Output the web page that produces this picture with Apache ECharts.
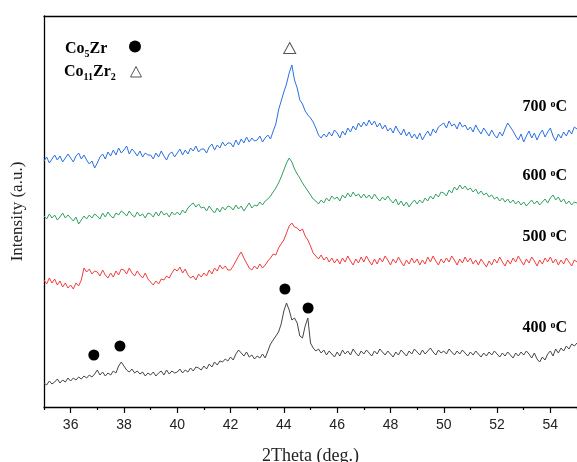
<!DOCTYPE html>
<html><head><meta charset="utf-8">
<script src="https://cdn.jsdelivr.net/npm/echarts@6/dist/echarts.min.js"></script>
<style>html,body{margin:0;padding:0;background:#fff}#c{width:577px;height:462px}</style>
</head><body><div id="c"></div>
<script>
// 2Theta sampling: 35.0 .. 55.0 in 0.1 deg steps
const thetaStart = 35, thetaStep = 0.1;

const int700 = [
245,249,243,247,251,246,250,244,248,252,
248,244,250,253,247,251,246,242,245,238,
243,249,252,247,254,250,256,251,258,253,
256,260,252,257,254,250,255,249,253,251,
251,247,253,249,255,250,246,252,254,249,
253,257,251,256,252,258,255,260,254,257,
257,253,259,262,256,261,258,264,260,263,
263,259,266,261,267,263,269,264,268,265,
266,270,264,268,271,267,275,282,296,305,
314,322,333,341,326,318,306,302,295,291,
288,284,278,271,268,272,269,274,270,276,
273,268,275,271,278,274,280,276,283,279,
284,280,286,281,285,279,283,277,281,275,
278,273,280,275,271,277,270,274,268,272,
267,273,266,271,275,270,277,273,279,281,
283,278,285,280,282,277,284,279,281,276,
279,274,281,276,272,278,274,270,276,271,
268,274,270,277,283,279,275,270,266,272,
264,270,275,268,273,266,272,276,269,274,
278,270,265,272,268,274,270,276,272,279,
277];

const int600 = [
190,187,192,188,191,186,189,193,188,191,
188,185,189,182,186,190,187,191,188,192,
190,187,193,189,194,190,188,193,191,195,
193,190,195,191,189,194,190,192,188,193,
192,189,194,190,195,191,193,189,194,191,
194,191,196,193,198,201,203,199,202,198,
199,195,200,196,193,198,194,199,196,200,
199,196,201,197,200,195,199,203,198,201,
200,204,201,205,207,210,214,218,223,229,
236,243,248,244,237,232,228,223,219,215,
211,207,205,202,206,203,208,205,210,207,
209,205,211,208,213,209,214,210,212,208,
212,208,211,207,212,208,205,209,206,210,
206,203,207,201,205,200,204,199,203,206,
202,206,203,208,205,210,207,212,209,214,
213,210,216,213,219,216,221,217,220,216,
218,214,217,212,215,211,213,209,211,207,
209,205,208,204,207,203,206,202,205,201,
204,200,203,206,202,205,201,204,207,203,
208,211,206,209,204,207,202,205,201,204,
203];

const int500 = [
126,122,128,123,127,121,125,119,123,118,
121,117,123,120,126,138,134,137,132,135,
134,130,136,131,128,133,129,135,131,137,
136,132,138,133,130,135,131,128,133,127,
124,121,125,122,127,126,130,128,133,137,
135,139,133,137,131,128,130,126,132,129,
133,130,136,132,138,135,141,137,140,136,
136,140,145,150,154,148,143,138,136,140,
137,142,138,141,145,148,152,151,158,162,
166,173,180,183,179,178,175,177,170,166,
160,153,150,147,151,146,149,144,148,143,
147,142,148,144,150,145,141,147,143,149,
144,150,145,141,147,142,148,144,150,146,
141,147,143,149,144,140,146,142,148,143,
147,141,146,142,149,144,150,145,141,147,
143,148,144,150,146,141,147,143,149,144,
148,142,146,141,147,143,139,145,141,147,
143,149,144,140,146,142,148,144,150,145,
141,147,143,149,145,140,146,142,148,144,
149,143,147,141,146,142,148,144,140,146,
144];

const int400 = [
23,21,25,22,24,27,23,26,24,28,
25,28,26,29,27,30,28,31,29,32,
36,31,34,30,33,31,35,33,40,44,
40,36,34,37,33,35,32,34,30,33,
31,34,30,33,35,31,36,32,35,33,
34,37,33,36,34,38,35,39,38,36,
40,37,42,39,44,41,45,44,47,45,
49,46,52,56,53,50,54,49,51,47,
50,48,52,48,55,62,66,70,74,82,
95,103,96,86,88,83,70,68,80,88,
63,58,55,57,53,56,51,55,52,49,
54,50,56,52,55,51,57,53,50,55,
52,56,53,50,55,52,57,54,51,55,
52,49,54,51,56,53,50,55,52,57,
54,51,56,52,55,58,54,51,56,53,
55,52,57,54,51,55,52,56,53,50,
54,51,55,52,49,53,50,54,51,55,
52,49,53,50,54,51,48,53,50,54,
51,55,52,48,53,47,44,49,46,52,
55,50,57,53,58,55,60,57,62,60,
63];

const co5zrPeaks = [[36.87, 51], [37.85, 60], [44.04, 117], [44.91, 98]];
const co11zr2Peaks = [[44.22, 358]];

const majorTicks = [36, 38, 40, 42, 44, 46, 48, 50, 52, 54];
const minorTicks = [35, 37, 39, 41, 43, 45, 47, 49, 51, 53, 55];

const sampleTemps = ['700', '600', '500', '400'];
const phaseNames = ['{b|Co}{s|5}{b|Zr}', '{b|Co}{s|11}{b|Zr}{s|2}'];

const xTitle = '2Theta (deg.)';
const yTitle = 'Intensity (a.u.)';

const colors = ['#2a6fe3', '#2fa15c', '#f23c3c', '#454545'];
const serif = '"Liberation Serif", "Times New Roman", serif';

function toPairs(arr) {
  return arr.map((v, i) => [+(thetaStart + i * thetaStep).toFixed(1), v]);
}

const chart = echarts.init(document.getElementById('c'), null, {renderer: 'canvas'});

const lineSeries = [int700, int600, int500, int400].map((arr, k) => ({
  type: 'line',
  data: toPairs(arr),
  showSymbol: false,
  symbol: 'none',
  silent: true,
  lineStyle: {color: colors[k], width: 1},
  itemStyle: {color: colors[k]},
  emphasis: {disabled: true},
  z: 2
}));

const labelY = [107, 176, 237, 328];
const richTemp = {
  b: {fontFamily: serif, fontWeight: 'bold', fontSize: 16, color: '#111'},
  sup: {fontFamily: serif, fontWeight: 'bold', fontSize: 10, color: '#111', verticalAlign: 'top', padding: [0, 0, 6, 0]}
};
const richPhase = {
  b: {fontFamily: serif, fontWeight: 'bold', fontSize: 16, color: '#111', verticalAlign: 'bottom'},
  s: {fontFamily: serif, fontWeight: 'bold', fontSize: 10, color: '#111', verticalAlign: 'bottom', padding: [0, 0, -2, 0]}
};

const graphics = [];
sampleTemps.forEach((t, i) => {
  graphics.push({
    type: 'text', x: 567, y: labelY[i], silent: true,
    style: {text: '{b|' + t + ' }{sup|o}{b|C}', rich: richTemp, align: 'right', verticalAlign: 'middle'}
  });
});
graphics.push({
  type: 'text', x: 65, y: 49, silent: true,
  style: {text: phaseNames[0], rich: richPhase, align: 'left', verticalAlign: 'middle'}
});
graphics.push({
  type: 'text', x: 64, y: 72, silent: true,
  style: {text: phaseNames[1], rich: richPhase, align: 'left', verticalAlign: 'middle'}
});
graphics.push({
  type: 'circle', silent: true, shape: {cx: 135, cy: 46.5, r: 6}, style: {fill: '#000'}
});
graphics.push({
  type: 'polygon', silent: true,
  shape: {points: [[130.5, 77], [141.5, 77], [136, 66.5]]},
  style: {fill: 'none', stroke: '#555', lineWidth: 1}
});

chart.setOption({
  animation: false,
  backgroundColor: '#fff',
  grid: {left: 44, right: 0, top: 16, bottom: 55, containLabel: false, outerBoundsMode: 'none'},
  xAxis: [
    {
      type: 'value', min: 35, max: 55, position: 'bottom',
      axisLine: {show: true, onZero: false, lineStyle: {color: '#000', width: 1.3}},
      axisTick: {show: true, customValues: majorTicks, length: 6, inside: false, lineStyle: {color: '#000', width: 1.2}},
      axisLabel: {show: true, customValues: majorTicks, fontFamily: '"Liberation Sans", Arial, sans-serif', fontSize: 14, color: '#222', margin: 11},
      splitLine: {show: false},
      name: xTitle, nameLocation: 'middle', nameGap: 40,
      nameTextStyle: {fontFamily: serif, fontSize: 18, color: '#222'}
    },
    {
      type: 'value', min: 35, max: 55, position: 'bottom',
      axisLine: {show: false, onZero: false},
      axisTick: {show: true, customValues: minorTicks, length: 3, inside: false, lineStyle: {color: '#000', width: 1.2}},
      axisLabel: {show: false},
      splitLine: {show: false}
    },
    {
      type: 'value', min: 35, max: 55, position: 'top',
      axisLine: {show: true, onZero: false, lineStyle: {color: '#000', width: 1.3}},
      axisTick: {show: false}, axisLabel: {show: false}, splitLine: {show: false}
    }
  ],
  yAxis: {
    type: 'value', min: -1, max: 390,
    axisLine: {show: true, onZero: false, lineStyle: {color: '#000', width: 1.3}},
    axisTick: {show: false}, axisLabel: {show: false}, splitLine: {show: false},
    name: yTitle, nameLocation: 'middle', nameGap: 18, nameRotate: 90,
    nameTextStyle: {fontFamily: serif, fontSize: 17, color: '#222'}
  },
  series: lineSeries.concat([
    {
      type: 'scatter', data: co5zrPeaks, symbol: 'circle', symbolSize: 11, silent: true,
      itemStyle: {color: '#000', opacity: 1}, z: 3
    },
    {
      type: 'scatter', data: co11zr2Peaks, symbol: 'triangle', symbolSize: [12, 11], silent: true,
      itemStyle: {color: 'rgba(255,255,255,0)', borderColor: '#555', borderWidth: 1, opacity: 1}, z: 3
    }
  ]),
  graphic: graphics
});
</script>
</body></html>
